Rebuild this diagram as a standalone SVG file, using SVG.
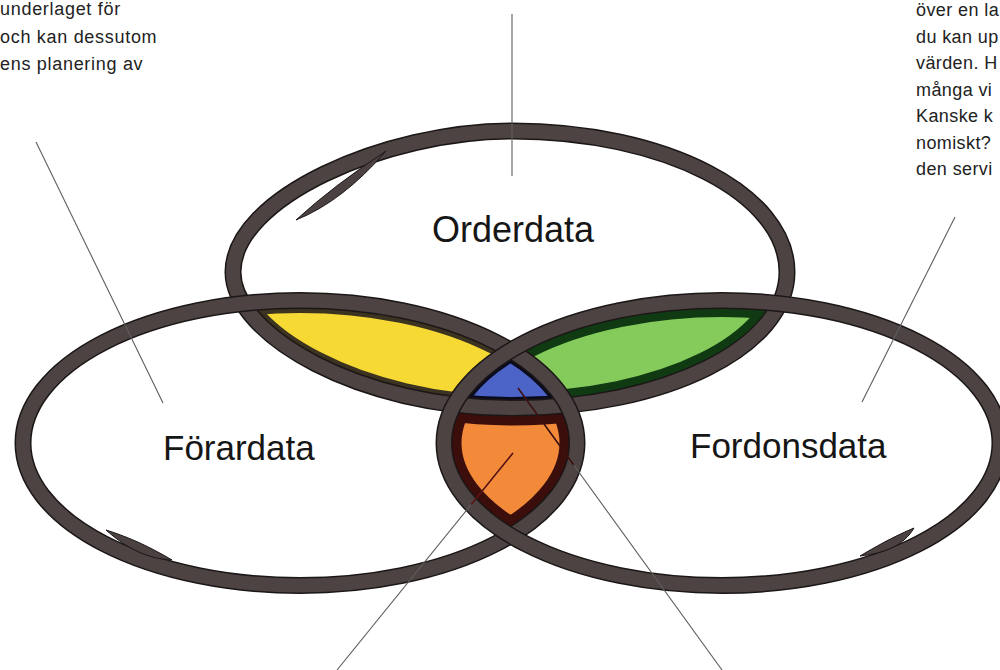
<svg xmlns="http://www.w3.org/2000/svg" width="1000" height="670" viewBox="0 0 1000 670">
<style>
.para{font-family:"Liberation Sans",Arial,sans-serif;font-size:18px;fill:#222;letter-spacing:0.7px}
.pr{letter-spacing:0.4px}
.label{font-family:"Liberation Sans",Arial,sans-serif;fill:#161616}
.ringEdge{fill:none;stroke:#1c1717;stroke-width:17}
.ring{fill:none;stroke:#4c4342;stroke-width:14}
.tail{fill:#4a4140;stroke:#1c1717;stroke-width:1}
.leader{fill:none;stroke:#5e5e5e;stroke-width:1.1}
</style>
<defs>
<path id="shT" d="M233,272 C233,198 385,131 512,131 C665,131 787,194 787,272 C787,347 665,408 512,408 C360,408 233,335 233,272 Z"/>
<ellipse id="shL" cx="300" cy="443" rx="277" ry="142.5"/>
<ellipse id="shR" cx="722" cy="443" rx="278" ry="142.5"/>
<clipPath id="cT"><use href="#shT"/></clipPath>
<clipPath id="cL"><use href="#shL"/></clipPath>
<clipPath id="cR"><use href="#shR"/></clipPath>
</defs>
<rect width="1000" height="670" fill="#ffffff"/>

<g id="overlaps">
  <g id="overlap-order-forare" clip-path="url(#cT)"><g clip-path="url(#cL)">
    <rect x="0" y="0" width="1000" height="670" fill="#f7d934"/>
    <g fill="none" stroke="#3c3421" stroke-width="25"><use href="#shT"/><use href="#shL"/></g>
  </g></g>
  <g id="overlap-order-fordon" clip-path="url(#cT)"><g clip-path="url(#cR)">
    <rect x="0" y="0" width="1000" height="670" fill="#84cb5c"/>
    <g fill="none" stroke="#0f3a12" stroke-width="33"><use href="#shT"/><use href="#shR"/></g>
  </g></g>
  <g id="overlap-forare-fordon" clip-path="url(#cL)"><g clip-path="url(#cR)">
    <rect x="0" y="0" width="1000" height="670" fill="#f28a3a"/>
    <g fill="none" stroke="#3b0d0b" stroke-width="35"><use href="#shT"/><use href="#shL"/><use href="#shR"/></g>
  </g></g>
  <g id="overlap-all" clip-path="url(#cT)"><g clip-path="url(#cL)"><g clip-path="url(#cR)">
    <rect x="0" y="0" width="1000" height="670" fill="#4c64c8"/>
    <g fill="none" stroke="#0b0b1e" stroke-width="22"><use href="#shT"/><use href="#shL"/><use href="#shR"/></g>
  </g></g></g>
</g>

<g id="node-orderdata">
  <use href="#shT" class="ringEdge"/>
  <use href="#shT" class="ring"/>
  <path class="tail" d="M296,220 Q333,186 386,151 Q343,201 296,220 Z"/>
  <text class="label" x="432" y="242" font-size="36">Orderdata</text>
</g>
<g id="node-forardata">
  <use href="#shL" class="ringEdge"/>
  <use href="#shL" class="ring"/>
  <path class="tail" d="M106,530 C125,536 145,544 172,560 C150,559 128,550 106,530 Z"/>
  <text class="label" x="163" y="460" font-size="35">Förardata</text>
</g>
<g id="node-fordonsdata">
  <use href="#shR" class="ringEdge"/>
  <use href="#shR" class="ring"/>
  <path class="tail" d="M914,528 C902,533 885,541 860,556 C886,553 904,545 914,528 Z"/>
  <text class="label" x="690" y="458" font-size="35">Fordonsdata</text>
</g>

<g id="connectors">
  <line class="leader" x1="512" y1="14" x2="512" y2="176"/>
  <line class="leader" x1="36" y1="142" x2="163" y2="403"/>
  <line class="leader" x1="955" y1="217" x2="862" y2="402"/>
  <line class="leader" x1="513" y1="453" x2="337" y2="670"/>
  <line class="leader" x1="518" y1="388" x2="722" y2="670"/>
  <g clip-path="url(#cL)"><g clip-path="url(#cR)">
    <line x1="513" y1="453" x2="337" y2="670" stroke="#5a0c0c" stroke-width="1.4"/>
    <line x1="518" y1="388" x2="722" y2="670" stroke="#3a0a0a" stroke-width="1.4"/>
  </g></g>
</g>

<g id="text-left">
  <text class="para" x="0" y="15">underlaget för</text>
  <text class="para" x="0" y="42.5">och kan dessutom</text>
  <text class="para" x="0" y="70">ens planering av</text>
</g>
<g id="text-right">
  <text class="para pr" x="916" y="16">över en la</text>
  <text class="para pr" x="916" y="42.5">du kan up</text>
  <text class="para pr" x="916" y="69">värden. H</text>
  <text class="para pr" x="916" y="95.5">många vi</text>
  <text class="para pr" x="916" y="122">Kanske k</text>
  <text class="para pr" x="916" y="148.5">nomiskt?</text>
  <text class="para pr" x="916" y="175">den servi</text>
</g>
</svg>
